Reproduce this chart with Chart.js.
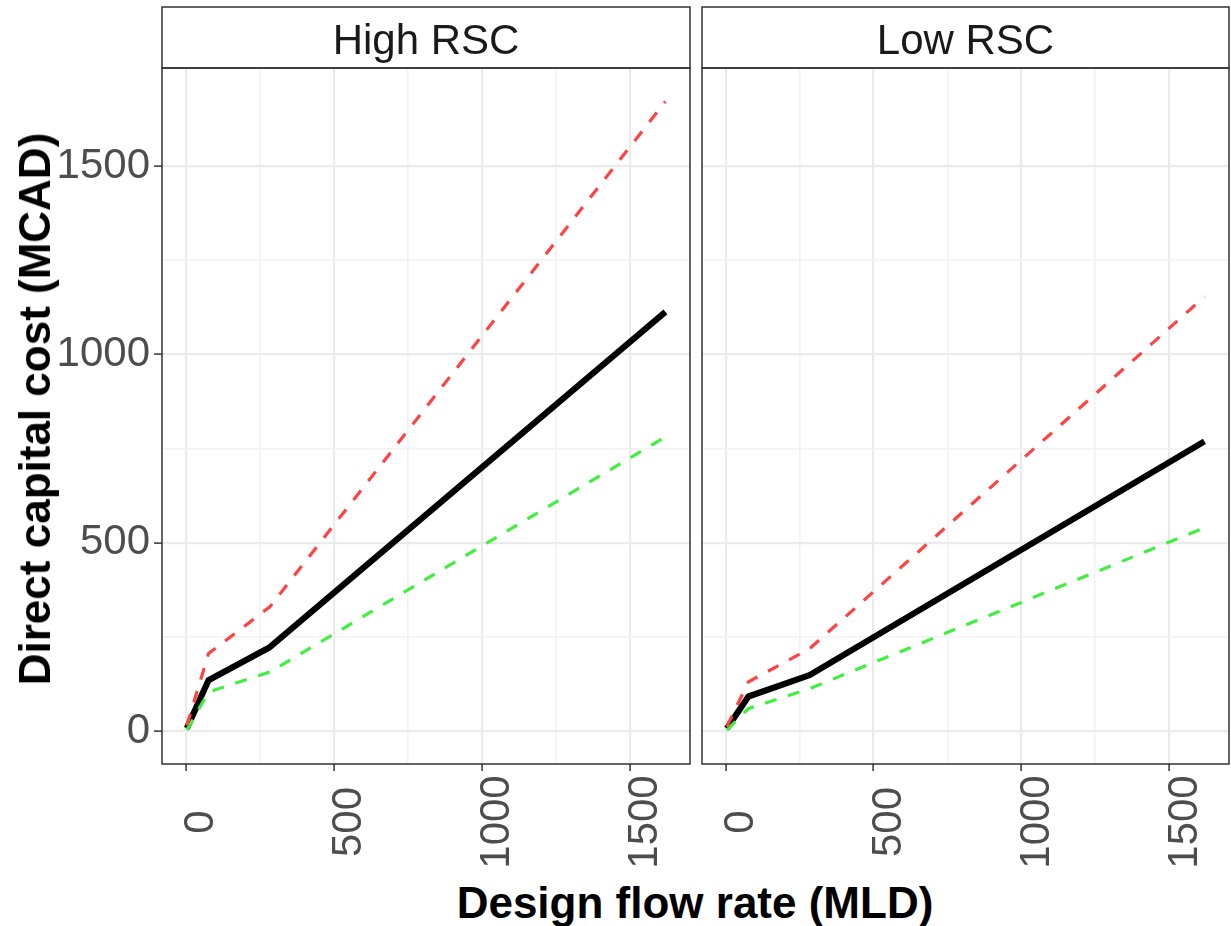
<!DOCTYPE html>
<html>
<head>
<meta charset="utf-8">
<script src="https://cdn.jsdelivr.net/npm/chart.js@4/dist/chart.umd.min.js"></script>
<style>
  body { margin: 0; background: #fff; width: 1231px; height: 926px; position: relative; overflow: hidden; font-family: 'Liberation Sans', Arial, sans-serif; }
  .panel { position: absolute; top: 0; height: 870px; }
  #ytitle { position: absolute; left: 35px; top: 409px; transform: translate(-50%, -50%) rotate(-90deg); white-space: nowrap; font-weight: bold; font-size: 44px; color: #000; }
  #xtitle { position: absolute; left: 695px; top: 903px; transform: translate(-50%, -50%); white-space: nowrap; font-weight: bold; font-size: 44px; color: #000; }
</style>
</head>
<body>
<div class="panel" style="left:0;width:696px"><canvas id="highChart"></canvas></div>
<div class="panel" style="left:696px;width:535px"><canvas id="lowChart"></canvas></div>
<div id="ytitle">Direct capital cost (MCAD)</div>
<div id="xtitle">Design flow rate (MLD)</div>
<script>
// data
const flowRate = [4, 77, 284, 1620];

const highBase = [8, 135, 223, 1113];
const highUpper = [15, 206, 330, 1671];
const highLower = [3, 104, 157, 781];

const lowBase = [7, 92, 149, 769];
const lowUpper = [12, 131, 219, 1153];
const lowLower = [3, 60, 113, 540];

const majorTicks = [0, 500, 1000, 1500];
const gridTicks = [0, 250, 500, 750, 1000, 1250, 1500];

const RED = '#FF4242';
const GREEN = '#42EE42';

function toPoints(ys) {
  return flowRate.map((x, i) => ({ x: x, y: ys[i] }));
}

// strip on top, panel border and centred rotated x labels
const facetPlugin = {
  id: 'facet',
  afterDraw(chart, args, opts) {
    const { ctx, chartArea } = chart;
    const a = chartArea;
    ctx.save();
    // strip
    ctx.fillStyle = '#fff';
    ctx.fillRect(a.left, 7, a.right - a.left, a.top - 7);
    ctx.strokeStyle = '#333';
    ctx.lineWidth = 1.5;
    ctx.strokeRect(a.left, 7, a.right - a.left, a.top - 7);
    ctx.fillStyle = '#1A1A1A';
    ctx.font = '42px "Liberation Sans", Arial, sans-serif';
    ctx.textAlign = 'center';
    ctx.textBaseline = 'alphabetic';
    ctx.fillText(opts.title, (a.left + a.right) / 2, 54);
    // panel border
    ctx.strokeRect(a.left, a.top, a.right - a.left, a.bottom - a.top);
    // x tick labels
    ctx.fillStyle = '#4D4D4D';
    ctx.textBaseline = 'middle';
    majorTicks.forEach(v => {
      const x = chart.scales.x.getPixelForValue(v);
      ctx.save();
      ctx.translate(x + 16, 822);
      ctx.rotate(-Math.PI / 2);
      ctx.fillText(String(v), 0, 0);
      ctx.restore();
    });
    ctx.restore();
  }
};

function gridColor(c) {
  return c.tick && c.tick.value % 500 === 0 ? '#EBEBEB' : '#F2F2F2';
}
function gridWidth(c) {
  return c.tick && c.tick.value % 500 === 0 ? 2.2 : 1.6;
}
function tickColor(c) {
  return c.tick && c.tick.value % 500 === 0 ? '#333' : 'rgba(0,0,0,0)';
}

function makeChart(id, title, base, upper, lower, showY, yWidth, padRight) {
  const ctx = document.getElementById(id).getContext('2d');
  return new Chart(ctx, {
    type: 'scatter',
    data: {
      datasets: [
        { label: 'upper', data: toPoints(upper), borderColor: RED, borderWidth: 3.2, borderDash: [12, 12], showLine: true, pointRadius: 0, borderJoinStyle: 'round' },
        { label: 'lower', data: toPoints(lower), borderColor: GREEN, borderWidth: 3.2, borderDash: [12, 12], showLine: true, pointRadius: 0, borderJoinStyle: 'round' },
        { label: 'base', data: toPoints(base), borderColor: '#000', borderWidth: 6.2, showLine: true, pointRadius: 0, borderJoinStyle: 'round' }
      ]
    },
    options: {
      responsive: true,
      maintainAspectRatio: false,
      animation: false,
      layout: { padding: { top: 68, right: padRight, left: 0, bottom: 0 } },
      scales: {
        x: {
          type: 'linear',
          min: -80,
          max: 1703,
          afterBuildTicks: s => { s.ticks = gridTicks.map(v => ({ value: v })); },
          afterFit: s => { s.height = 106; },
          ticks: { display: false },
          border: { display: false },
          grid: { color: gridColor, lineWidth: gridWidth, tickColor: tickColor, tickLength: 7, tickWidth: 1.5 }
        },
        y: {
          type: 'linear',
          min: -87,
          max: 1760,
          afterBuildTicks: s => { s.ticks = gridTicks.map(v => ({ value: v })); },
          afterFit: s => { s.width = yWidth; },
          ticks: {
            display: showY,
            padding: 4,
            color: '#4D4D4D',
            font: { family: '"Liberation Sans", Arial, sans-serif', size: 42 },
            callback: v => (v % 500 === 0 ? v : '')
          },
          border: { display: false },
          grid: { color: gridColor, lineWidth: gridWidth, tickColor: tickColor, tickLength: 8, tickWidth: 1.5, drawTicks: showY }
        }
      },
      plugins: {
        legend: { display: false },
        tooltip: { enabled: false },
        facet: { title: title }
      }
    },
    plugins: [facetPlugin]
  });
}

makeChart('highChart', 'High RSC', highBase, highUpper, highLower, true, 162, 6);
makeChart('lowChart', 'Low RSC', lowBase, lowUpper, lowLower, false, 6, 2);
</script>
</body>
</html>
